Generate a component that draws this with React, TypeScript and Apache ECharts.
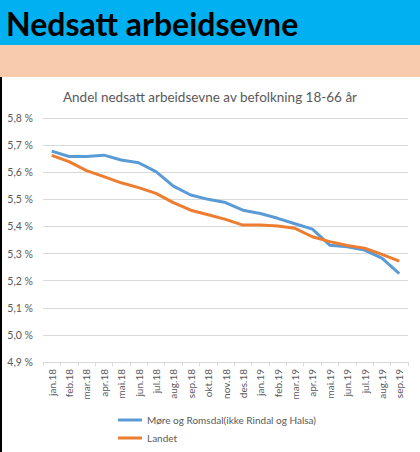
import React, { useEffect, useRef } from "react";
import * as echarts from "echarts";

const categories = [
  "jan.18", "feb.18", "mar.18", "apr.18", "mai.18", "jun.18", "jul.18",
  "aug.18", "sep.18", "okt.18", "nov.18", "des.18", "jan.19", "feb.19",
  "mar.19", "apr.19", "mai.19", "jun.19", "jul.19", "aug.19", "sep.19",
];
const moreRomsdal = [
  5.678, 5.658, 5.658, 5.663, 5.645, 5.635, 5.602, 5.549, 5.516, 5.500, 5.488,
  5.460, 5.448, 5.430, 5.410, 5.390, 5.331, 5.325, 5.313, 5.283, 5.226,
];
const landet = [
  5.662, 5.639, 5.606, 5.584, 5.561, 5.543, 5.522, 5.488, 5.460, 5.443, 5.426,
  5.405, 5.405, 5.402, 5.393, 5.362, 5.344, 5.330, 5.320, 5.297, 5.272,
];
const seriesNames = ["Møre og Romsdal(ikke Rindal og Halsa)", "Landet"];
const pageTitle = "Nedsatt arbeidsevne";
const chartTitle = "Andel nedsatt arbeidsevne av befolkning 18-66 år";

export default function App() {
  const ref = useRef<HTMLDivElement>(null);
  useEffect(() => {
    document.body.style.margin = "0";
    const chart = echarts.init(ref.current!, null, { renderer: "svg" });
    const font = "Lato, 'Open Sans', sans-serif";
    chart.setOption({
      animation: false,
      backgroundColor: "#ffffff",
      textStyle: { fontFamily: font },
      graphic: [
        { type: "rect", shape: { x: 0, y: 0, width: 420, height: 45 }, style: { fill: "#00B0F0" }, z: 0 },
        { type: "rect", shape: { x: 0, y: 45, width: 420, height: 32 }, style: { fill: "#F8CBAD" }, z: 0 },
        { type: "rect", shape: { x: 0, y: 77, width: 2, height: 375 }, style: { fill: "#000000" }, z: 0 },
        {
          type: "text", x: 6, y: 23,
          style: {
            text: pageTitle, fill: "#000000", font: `bold 32px Lato, sans-serif`,
            textVerticalAlign: "middle",
          },
        },
        {
          type: "text", x: 210, y: 97,
          style: {
            text: chartTitle, fill: "#595959", font: `13.5px ${font}`,
            textAlign: "center", textVerticalAlign: "middle",
          },
        },
      ],
      grid: { left: 43, right: 12, top: 118, bottom: 90, containLabel: false },
      legend: {
        orient: "vertical",
        left: 113,
        top: 410,
        itemWidth: 24,
        itemHeight: 3,
        itemGap: 8,
        icon: "rect",
        textStyle: { color: "#595959", fontSize: 10, fontFamily: font },
        data: seriesNames,
      },
      xAxis: {
        type: "category",
        data: categories,
        boundaryGap: true,
        axisLine: { lineStyle: { color: "#d9d9d9" } },
        axisTick: { show: true, alignWithLabel: false, length: 4, lineStyle: { color: "#d9d9d9" } },
        axisLabel: { rotate: 90, interval: 0, color: "#595959", fontSize: 10, margin: 7 },
      },
      yAxis: {
        type: "value",
        min: 4.9,
        max: 5.8,
        interval: 0.1,
        axisLine: { show: false },
        axisTick: { show: false },
        splitLine: { lineStyle: { color: "#d9d9d9" } },
        axisLabel: {
          color: "#595959", fontSize: 10.5, margin: 10,
          formatter: (v: number) => v.toFixed(1).replace(".", ",") + " %",
        },
      },
      series: [
        {
          name: seriesNames[0], type: "line", data: moreRomsdal, showSymbol: false, symbol: "none",
          lineStyle: { color: "#5B9BD5", width: 3 }, itemStyle: { color: "#5B9BD5" },
        },
        {
          name: seriesNames[1], type: "line", data: landet, showSymbol: false, symbol: "none",
          lineStyle: { color: "#ED7D31", width: 3 }, itemStyle: { color: "#ED7D31" },
        },
      ],
    });
    return () => chart.dispose();
  }, []);
  return <div ref={ref} style={{ width: 420, height: 452 }} />;
}
